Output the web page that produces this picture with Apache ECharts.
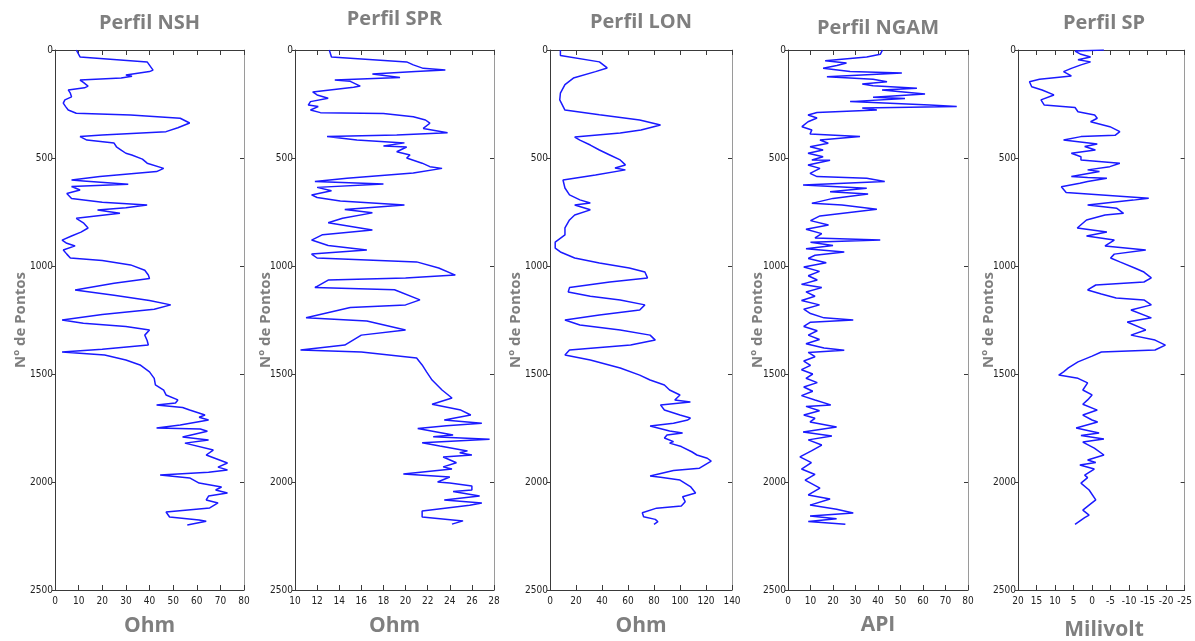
<!DOCTYPE html>
<html>
<head>
<meta charset="utf-8">
<script src="https://cdn.jsdelivr.net/npm/echarts@6/dist/echarts.min.js"></script>
<style>html,body{margin:0;padding:0;background:#fff}#c{width:1195px;height:641px}</style>
</head>
<body>
<div id="c"></div>
<script>
// ---------- DATA ----------
const titles = ['Perfil NSH', 'Perfil SPR', 'Perfil LON', 'Perfil NGAM', 'Perfil SP'];
const units = ['Ohm', 'Ohm', 'Ohm', 'API', 'Milivolt'];
const depthTicks = [0, 500, 1000, 1500, 2000, 2500];

const nshDepth = [0,32,55,93,100,116,122,130,139,150,167,175,185,200,217,231,246,262,278,293,301,316,338,360,378,394,401,417,431,448,463,478,486,505,524,548,563,586,602,606,622,632,648,664,687,705,718,730,741,756,779,800,824,843,861,880,895,907,926,945,963,975,995,1020,1042,1058,1080,1111,1135,1160,1180,1200,1225,1250,1265,1280,1296,1320,1345,1366,1385,1398,1412,1435,1458,1490,1520,1550,1575,1597,1620,1634,1643,1655,1667,1690,1700,1713,1736,1750,1755,1765,1792,1806,1820,1852,1875,1912,1931,1944,1955,1968,1981,2005,2023,2037,2051,2065,2083,2097,2120,2139,2162,2176,2182,2199];
const nshValue = [9,10.6,39,41.5,40,30,32.6,28,10.6,12,14,12.5,5.6,6.5,7,4.2,3.5,4.5,5.6,9,32,53,57,52,47,20,10.6,13.5,25,26,28,30,32.5,37,39,46,43,19,7,12,31,7,10.6,5,7,20,39,30,18,27.5,9,12,14,11,7,3,5,8.5,3.5,5,6.5,20,32,38,39.5,40,25,8.5,25,40,49,42,20,3,12,30,40,38,39,39.5,20,3,21,30,36,40,42,42.5,46,47,52,51,43,54,57,63.5,61,65,53,43,61.5,64.5,54,65,55,67,64,73,69,73,65,44.5,57,61,70.5,68,73,65,64,69,65.5,47,48.5,61,64,56];

const sprDepth = [0,32,55,69,85,93,100,111,127,139,145,167,172,194,208,223,239,255,262,278,290,294,309,324,339,363,383,393,401,417,430,444,449,471,486,500,524,540,548,569,594,609,620,636,652,671,683,699,718,738,754,779,800,833,855,880,905,926,945,963,981,1009,1042,1055,1065,1100,1110,1157,1180,1192,1240,1255,1296,1320,1366,1389,1398,1426,1458,1490,1528,1574,1611,1640,1667,1690,1713,1728,1740,1752,1782,1790,1802,1818,1833,1856,1865,1875,1884,1911,1930,1940,1963,1977,2000,2005,2019,2037,2044,2065,2083,2097,2108,2134,2162,2180,2195];
const sprValue = [13.1,13.3,20.1,20.7,21.6,23.6,20.9,17,19.5,13.6,15,15.9,15.3,11.6,12,13,11.4,11.2,12.1,11.4,12.3,18,20.7,21.8,22.2,21.6,23.8,19.2,12.9,15.6,19.9,18,20.1,19.2,20.4,20.1,21.5,22.2,23.3,20.7,14.7,11.8,18,12,13.3,11.5,12,14.1,19.9,14.5,17,14.3,13,17,12.5,11.5,13,16.5,11.5,12,21,23,24.5,20,13,11.8,19,21.3,20,15,11,16.5,20,16,14.5,10.5,16,21,21.5,21.9,22.4,23.3,24.2,22.4,25,25.9,23.5,26.9,23.7,21.1,24.3,22.5,27.6,21.5,23.1,25.6,24.9,26,23.4,24.6,23.4,24.2,19.8,24,22.9,24,26,26,24.3,26.7,23.5,26.9,25.8,21.5,21.5,25.2,24.2];

const lonDepth = [0,25,55,83,100,130,160,200,231,278,300,324,347,370,384,403,417,440,463,486,509,532,546,555,579,602,639,671,694,708,718,740,764,787,824,856,889,917,935,963,986,1009,1028,1055,1074,1100,1120,1140,1157,1180,1204,1227,1250,1273,1296,1320,1343,1366,1389,1412,1435,1472,1505,1528,1551,1574,1597,1620,1630,1643,1667,1690,1704,1713,1728,1741,1750,1764,1773,1782,1796,1813,1820,1836,1860,1875,1890,1903,1936,1947,1972,1978,1991,2021,2051,2068,2091,2111,2121,2142,2161,2173,2184,2196];
const lonValue = [8,8,38,44,35,18,11.5,8,7.5,11.5,38,69,85,70,54,19,23,31,38,46,54,58,50,58,35,10,11.5,15,23,31,19,31,19,15,11.5,11.5,4,4,8,19,38,61,73,75,46,15,14,31,54,73,69,38,11.5,23,54,77,81,62,15,11.5,31,54,69,77,88,92,100,96,108,85,88,100,108,106,95,77,78,92,102,90,88,95,92,101,109,113,121,124,115,95,77,85,100,108,112,102,104,101,82,71,72,81,83,80];

const ngamDepth = [0,9,20,32,50,60,72,84,100,107,124,135,147,157,165,177,185,204,219,225,239,255,262,268,278,289,301,315,332,355,370,389,401,417,432,448,463,478,494,509,510,532,548,571,586,594,609,625,640,656,667,687,710,718,737,768,790,810,830,850,870,880,890,905,920,935,950,965,985,1005,1025,1045,1065,1085,1100,1120,1140,1160,1180,1200,1220,1240,1250,1260,1280,1300,1320,1340,1360,1380,1390,1400,1420,1440,1460,1480,1500,1520,1540,1560,1580,1600,1620,1643,1650,1670,1690,1705,1722,1745,1768,1787,1805,1829,1856,1884,1910,1940,1965,1991,2028,2060,2079,2107,2126,2144,2157,2170,2183,2196];
const ngamValue = [42,42,41,35,16.5,26,21.7,15.6,27.6,50.6,17.3,37.8,44,33,37.8,57.3,41.8,60.9,37.8,52,27.6,63,75,33,39.5,12.9,8.9,12.9,8.9,6.2,10.6,9.8,32,14.2,17.9,9.8,15.6,8.9,15.6,10.6,18.7,8.9,14.2,9.8,12.9,35,43,6.7,35,18.7,35.6,20,10.6,24,39.5,14.2,10,18,8,15,12,41,10,20,8,25,12,9,17,7,14,9,13,6,15,8,12,6,14,7,10,16,29,10,7,13,9,14,8,16,25,9,12,7,10,6,11,8,13,7,11,6,12,19,8,14,7,12,9.8,21.6,6.7,19.5,9,15,10.4,5.3,10.4,6,12,7.6,14.2,9,18.7,9.8,21.6,29,9.8,21.6,9,25.5];

const spDepth = [0,5,20,32,45,55,69,85,100,120,135,147,170,185,208,231,255,266,286,301,316,332,355,378,395,401,417,435,447,463,478,494,509,524,540,555,563,586,590,594,609,617,633,660,686,695,718,733,756,764,787,824,843,861,880,907,926,945,963,981,1009,1028,1055,1074,1088,1111,1130,1148,1157,1180,1204,1240,1259,1296,1320,1343,1366,1389,1398,1417,1444,1472,1490,1505,1520,1541,1574,1597,1620,1640,1667,1690,1713,1722,1750,1773,1785,1801,1815,1843,1875,1898,1910,1921,1940,1968,1980,2005,2037,2083,2100,2130,2153,2165,2196];
const spValue = [-3.2,4.6,3,0.4,3.8,0.4,3,5.6,7.7,5.6,14.2,16.9,16.3,13.5,10.3,13.8,12.9,4.6,3.8,-0.7,-1.4,0.4,-4.8,-7.5,-6.2,3,7.7,-1.4,2,-0.9,5.6,3,3,-7.5,-4.8,1.2,-2,5.6,1.2,-4,1.2,3.3,8.3,7,-15.3,-11.1,1.2,-6.7,-8.5,-3.5,1.5,4,-4,1.5,-6,-3.5,-14.5,-6,-5,-7.5,-11.5,-14,-16,-14,-1,1.2,-2.5,-6.5,-14,-16,-10.5,-16,-9.5,-14.5,-10.5,-17,-19.8,-17,-2.5,0,3.8,6.4,7.7,9,3.8,1.2,2.5,0,1.2,2.5,-1.4,2.5,0,-1.5,4.3,-1.9,3,-3.2,2.5,-0.6,-3.2,1.2,-1,3.3,-0.6,2,1.2,3,0.8,-1,0.3,2.5,0.8,2,4.6];

// x-axis scales (min, max, step) per panel
const xMins = [0, 10, 0, 0, -25];
const xMaxs = [80, 28, 140, 80, 20];
const xSteps = [10, 2, 20, 10, 5];
const xInverse = [false, false, false, false, true];
const depths = [nshDepth, sprDepth, lonDepth, ngamDepth, spDepth];
const values = [nshValue, sprValue, lonValue, ngamValue, spValue];

// ---------- LAYOUT ----------
const gridLeft = [55, 295, 550, 788, 1018];
const gridWidth = [189, 199, 182, 180, 172];
const gridTop = 50, gridHeight = 540;
const titleY = [13, 9, 12, 18, 13];
const unitY = [616, 616, 616, 615, 620];
const nameGaps = [27, 22, 27, 23, 22];

const tickFont = '"Liberation Sans Narrow", "DejaVu Sans Condensed", "Liberation Sans", sans-serif';
const grayText = '#7f7f7f';

const grid = [], xAxis = [], yAxis = [], series = [], graphic = [];
for (let i = 0; i < 5; i++) {
  grid.push({left: gridLeft[i], width: gridWidth[i], top: gridTop, height: gridHeight, containLabel: false});
  const xBase = {
    gridIndex: i, type: 'value', min: xMins[i], max: xMaxs[i], interval: xSteps[i], inverse: xInverse[i],
    splitLine: {show: false},
    axisLine: {show: true, onZero: false, lineStyle: {color: '#3a3a3a', width: 1}},
    axisTick: {show: true, inside: true, length: 5, lineStyle: {color: '#3a3a3a'}}
  };
  xAxis.push(Object.assign({}, xBase, {
    position: 'bottom',
    axisLabel: {show: true, margin: 6, fontSize: 10, color: '#222', fontFamily: tickFont, showMinLabel: true, showMaxLabel: true, hideOverlap: false,
      formatter: v => String(v)}
  }));
  xAxis.push(Object.assign({}, xBase, {position: 'top', axisLabel: {show: false}}));
  const yBase = {
    gridIndex: i, type: 'value', min: 0, max: 2500, interval: 500, inverse: true,
    splitLine: {show: false}
  };
  yAxis.push(Object.assign({}, yBase, {
    position: 'left',
    axisLine: {show: true, onZero: false, lineStyle: {color: '#3a3a3a'}},
    axisTick: {show: true, inside: false, length: 3, lineStyle: {color: '#3a3a3a'}},
    axisLabel: {show: true, margin: 2, fontSize: 10, color: '#222', fontFamily: tickFont, showMinLabel: true, showMaxLabel: true, hideOverlap: false,
      formatter: v => String(v)},
    name: 'Nº de Pontos', nameLocation: 'middle', nameGap: nameGaps[i], nameMoveOverlap: false,
    nameTextStyle: {fontSize: 15, fontWeight: 'bold', color: grayText, fontFamily: '"Open Sans", sans-serif'}
  }));
  yAxis.push(Object.assign({}, yBase, {
    position: 'right',
    axisLine: {show: true, onZero: false, lineStyle: {color: '#9a9a9a'}},
    axisTick: {show: true, inside: true, length: 4, lineStyle: {color: '#3a3a3a'}},
    axisLabel: {show: false}
  }));
  series.push({
    type: 'line', xAxisIndex: 2 * i, yAxisIndex: 2 * i,
    data: depths[i].map((d, k) => [values[i][k], d]),
    showSymbol: false, symbol: 'none',
    lineStyle: {color: '#1a1aff', width: 1.5}
  });
  const cx = gridLeft[i] + gridWidth[i] / 2;
  graphic.push({type: 'text', x: cx, y: titleY[i], style: {text: titles[i], fill: grayText, font: 'bold 20px "Open Sans", sans-serif', textAlign: 'center', textVerticalAlign: 'top'}});
  graphic.push({type: 'text', x: cx, y: unitY[i], style: {text: units[i], fill: grayText, font: 'bold 21px "Open Sans", sans-serif', textAlign: 'center', textVerticalAlign: 'top'}});
}

const chart = echarts.init(document.getElementById('c'));
chart.setOption({animation: false, backgroundColor: '#fff', grid, xAxis, yAxis, series, graphic});
</script>
</body>
</html>
